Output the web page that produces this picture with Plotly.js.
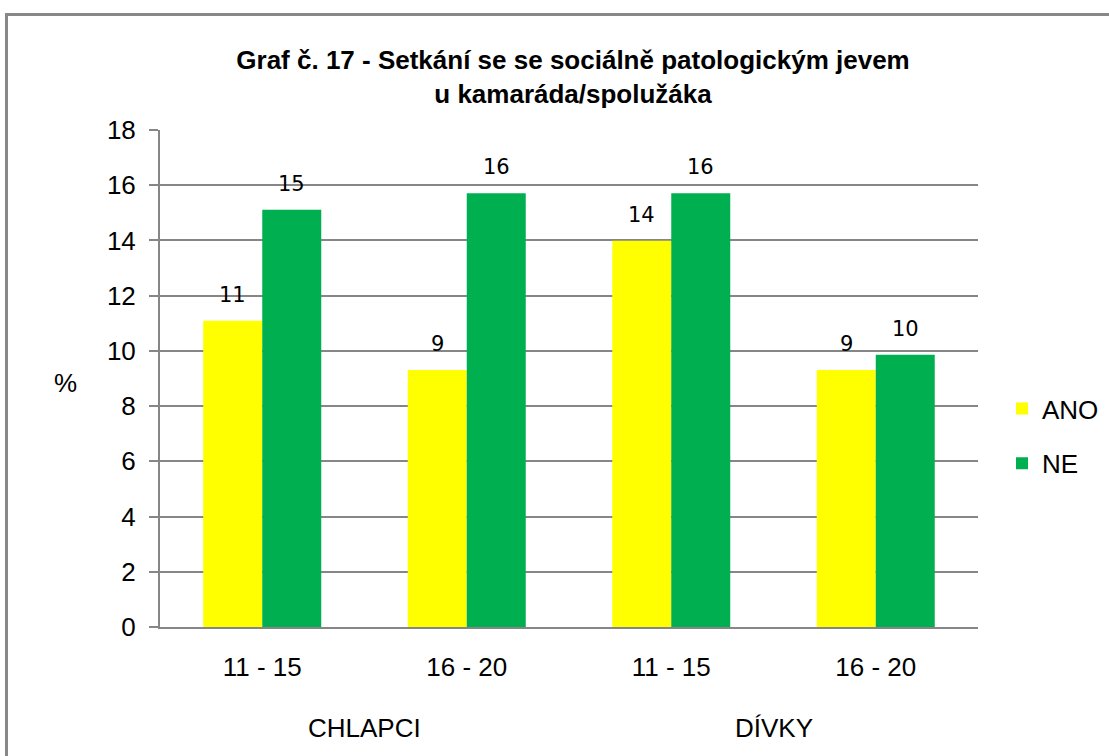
<!DOCTYPE html>
<html>
<head>
<meta charset="utf-8">
<script src="https://cdn.plot.ly/plotly-3.0.1.min.js"></script>
<style>
  html, body { margin: 0; padding: 0; background: #ffffff; overflow: hidden; }
  #frame { position: absolute; left: 5px; top: 13px; width: 1200px; height: 800px; border: 3px solid #888888; }
  #chart { position: absolute; left: 0; top: 0; width: 1109px; height: 756px; }
</style>
</head>
<body>
<div id="frame"></div>
<div id="chart"></div>
<script>
const titleText = "Graf č. 17 - Setkání se se sociálně patologickým jevem<br>u kamaráda/spolužáka";
const ageLabels = ["11 - 15", "16 - 20", "11 - 15", "16 - 20"];
const groupLabels = ["CHLAPCI", "DÍVKY"];
const seriesNames = ["ANO", "NE"];
const anoValues = [11.09, 9.31, 13.99, 9.31];
const neValues = [15.11, 15.71, 15.71, 9.86];
const yTicks = [0, 2, 4, 6, 8, 10, 12, 14, 16, 18];

const xPos = ageLabels.map((_, i) => i);
const grid = "#868686";
const sans = "Liberation Sans, Arial, sans-serif";
const labelFont = "DejaVu Sans, Verdana, sans-serif";

const traces = [
  { type: "bar", name: seriesNames[0], x: xPos, y: anoValues, marker: { color: "#FFFF00" }, legendgroup: "a", hoverinfo: "none" },
  { type: "bar", name: seriesNames[1], x: xPos, y: neValues, marker: { color: "#00B050" }, legendgroup: "b", hoverinfo: "none" }
];

const annotations = [];
const halfBar = 29.5;
[anoValues, neValues].forEach((vals, s) => {
  vals.forEach((v, i) => {
    annotations.push({
      x: i, y: v, xref: "x", yref: "y",
      xshift: s === 0 ? -halfBar : halfBar, yshift: 12,
      yanchor: "bottom", xanchor: "center",
      text: String(Math.round(v)), showarrow: false,
      font: { family: labelFont, size: 21, color: "#000000" }
    });
  });
});
groupLabels.forEach((g, k) => {
  annotations.push({
    x: k * 2 + 0.5, y: -0.203, xref: "x", yref: "paper",
    yanchor: "middle", xanchor: "center", text: g, showarrow: false,
    font: { family: sans, size: 26, color: "#000000" }
  });
});
annotations.push({
  x: -0.115, y: 0.491, xref: "paper", yref: "paper",
  xanchor: "center", yanchor: "middle", text: "%", showarrow: false,
  font: { family: sans, size: 26, color: "#000000" }
});

const layout = {
  width: 1109, height: 756,
  paper_bgcolor: "rgba(0,0,0,0)", plot_bgcolor: "rgba(0,0,0,0)",
  margin: { l: 160, r: 131, t: 130, b: 129, pad: 0, autoexpand: false },
  title: {
    text: titleText, x: 0.5167, xref: "container", xanchor: "center",
    y: 1 - 69 / 756, yref: "container", yanchor: "top",
    font: { family: sans, size: 26, color: "#000000", weight: "bold" }
  },
  barmode: "group", bargap: 0.423, bargroupgap: 0,
  xaxis: {
    range: [-0.5, 3.5], tickvals: xPos, ticktext: ageLabels,
    showgrid: false, zeroline: false, showline: true, linecolor: grid, linewidth: 2,
    ticks: "", ticklabelstandoff: 16,
    tickfont: { family: sans, size: 26, color: "#000000" }
  },
  yaxis: {
    range: [0, 18], tickvals: yTicks, ticktext: yTicks.map(String),
    showgrid: true, gridcolor: grid, gridwidth: 2,
    zeroline: false, showline: true, linecolor: grid, linewidth: 2,
    ticks: "outside", ticklen: 9, tickwidth: 2, tickcolor: grid,
    ticklabelstandoff: 8,
    tickfont: { family: sans, size: 26, color: "#000000" }
  },
  showlegend: true,
  legend: {
    xref: "container", x: 1002 / 1109, xanchor: "left", y: 0.384, yanchor: "middle",
    tracegroupgap: 18, itemwidth: 30,
    font: { family: sans, size: 26, color: "#000000" },
    bgcolor: "rgba(0,0,0,0)"
  },
  annotations: annotations
};

Plotly.newPlot("chart", traces, layout, { staticPlot: true, displayModeBar: false });
</script>
</body>
</html>
